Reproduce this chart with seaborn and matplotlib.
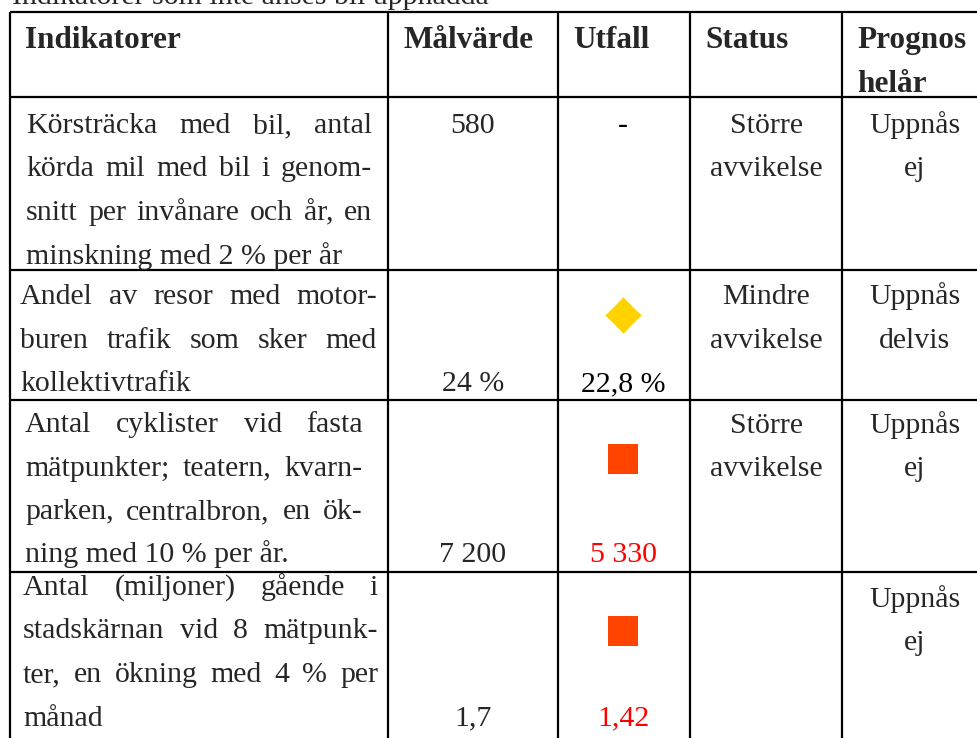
import matplotlib
matplotlib.use("Agg")
import matplotlib.pyplot as plt
import seaborn as sns
import pandas as pd
from matplotlib.path import Path

# Table content
title = "Indikatorer som inte anses bli uppnådda"
headers = ["Indikatorer", "Målvärde", "Utfall", "Status", "Prognos\nhelår"]
indicators = [
    ["Körsträcka med bil, antal", "körda mil med bil i genom-",
     "snitt per invånare och år, en", "minskning med 2 % per år"],
    ["Andel av resor med motor-", "buren trafik som sker med", "kollektivtrafik"],
    ["Antal cyklister vid fasta", "mätpunkter; teatern, kvarn-",
     "parken, centralbron, en ök-", "ning med 10 % per år."],
    ["Antal (miljoner) gående i", "stadskärnan vid 8 mätpunk-",
     "ter, en ökning med 4 % per", "månad"],
]
target = ["580", "24 %", "7 200", "1,7"]
outcome = ["-", "22,8 %", "5 330", "1,42"]
outcome_red = [False, False, True, True]
status = ["Större\navvikelse", "Mindre\navvikelse", "Större\navvikelse", ""]
forecast = ["Uppnås\nej", "Uppnås\ndelvis", "Uppnås\nej", "Uppnås\nej"]
icon = [None, "Mindre avvikelse", "Större avvikelse", "Större avvikelse"]

# Layout (pixels)
W, H = 977, 738
row_edges = [12, 97, 270, 400, 572, 760]
col_edges = [10, 388, 558, 690, 842, 988]
pitch = 43.5
text_offset = [36, 34, 32, 23]
status_offset = [36, 34, 33, 35]
value_line = [0, 2, 3, 3]
icon_offset = [0, 45, 59, 59]
text_bounds = [(26, 372), (20, 377), (25, 363), (23, 378)]

sns.set_style("white")
plt.rcParams["font.family"] = ["Liberation Serif", "DejaVu Serif"]
BODY = 21.5
HEAD = 22.5

fig = plt.figure(figsize=(W / 100, H / 100), dpi=100)
ax = fig.add_axes([0, 0, 1, 1])
ax.set_xlim(0, W)
ax.set_ylim(H, 0)
ax.axis("off")

# grid lines
ax.hlines(row_edges[:-1], col_edges[0], W + 20, color="black", lw=1.6)
ax.vlines(col_edges[:-1], row_edges[0], H + 20, color="black", lw=1.6)

# title line (cut off at the top, as in the source)
ax.text(12, 4, title, fontsize=BODY, va="baseline", ha="left")

# header
for i, h in enumerate(headers):
    for j, part in enumerate(h.split("\n")):
        ax.text(col_edges[i] + 15, 48 + j * pitch, part, fontsize=HEAD,
                fontweight="bold", va="baseline", ha="left")

r = fig.canvas.get_renderer()


def word_width(s):
    t = ax.text(0, 0, s, fontsize=BODY)
    w = t.get_window_extent(renderer=r).width
    t.remove()
    return w


# justified indicator text
for k, lines in enumerate(indicators):
    left, right = text_bounds[k]
    top = row_edges[k + 1]
    for j, line in enumerate(lines):
        y = top + text_offset[k] + j * pitch
        words = line.split(" ")
        if j == len(lines) - 1 or len(words) == 1:
            ax.text(left, y, line, fontsize=BODY, va="baseline", ha="left")
            continue
        widths = [word_width(wd) for wd in words]
        gap = (right - left - sum(widths)) / (len(words) - 1)
        x = left
        for wd, w in zip(words, widths):
            ax.text(x, y, wd, fontsize=BODY, va="baseline", ha="left")
            x += w + gap

# value / status / forecast columns
for k in range(len(indicators)):
    top = row_edges[k + 1]
    y_val = top + text_offset[k] + value_line[k] * pitch
    ax.text((col_edges[1] + col_edges[2]) / 2, y_val, target[k], fontsize=BODY,
            va="baseline", ha="center")
    ax.text((col_edges[2] + col_edges[3]) / 2 - 1, y_val, outcome[k], fontsize=BODY,
            va="baseline", ha="center", color="#FF0000" if outcome_red[k] else "black")
    for col, cell in ((3, status[k]), (4, forecast[k])):
        for j, part in enumerate(cell.split("\n")):
            if part:
                ax.text((col_edges[col] + col_edges[col + 1]) / 2,
                        top + status_offset[k] + j * pitch, part, fontsize=BODY,
                        va="baseline", ha="center")

# status icons
icon_df = pd.DataFrame({
    "x": [(col_edges[2] + col_edges[3]) / 2 - 1] * len(icon),
    "y": [row_edges[k + 1] + icon_offset[k] for k in range(len(icon))],
    "icon": icon,
}).dropna()

c = 0.47
diamond = Path(
    [(0, 1), (c, c), (1, 0), (c, -c), (0, -1), (-c, -c), (-1, 0), (-c, c), (0, 1)],
    [Path.MOVETO, Path.CURVE3, Path.CURVE3, Path.CURVE3, Path.CURVE3,
     Path.CURVE3, Path.CURVE3, Path.CURVE3, Path.CURVE3],
)
sns.scatterplot(data=icon_df[icon_df["icon"] == "Mindre avvikelse"], x="x", y="y",
                marker=diamond, s=700, color="#FFD200", linewidth=0, ax=ax, legend=False)
sns.scatterplot(data=icon_df[icon_df["icon"] == "Större avvikelse"], x="x", y="y",
                marker="s", s=440, color="#FF4400", linewidth=0, ax=ax, legend=False)

ax.set_xlim(0, W)
ax.set_ylim(H, 0)
ax.axis("off")
fig.savefig("out.png", dpi=100)
